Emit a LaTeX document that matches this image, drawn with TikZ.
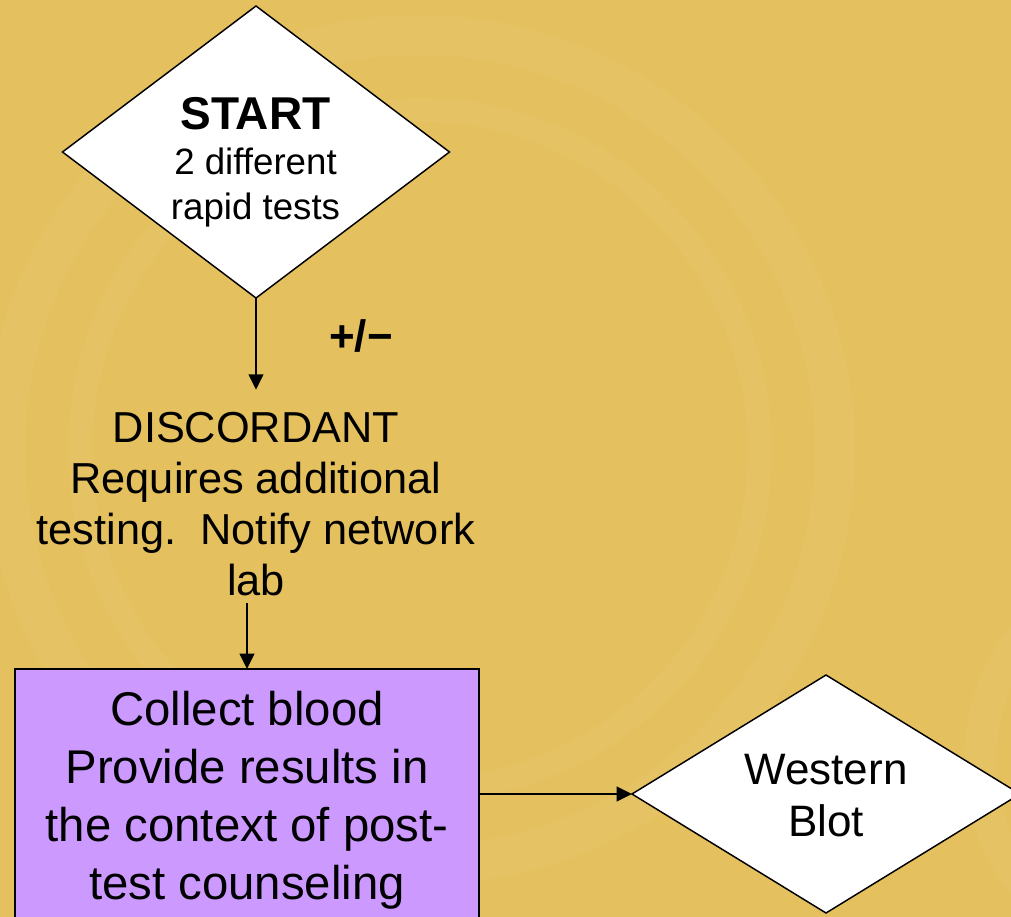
\documentclass[tikz,border=0pt]{standalone}
\usepackage{fontspec}
\setmainfont{Liberation Sans}
\usetikzlibrary{shapes.geometric,arrows.meta}
\definecolor{bggold}{RGB}{228,192,94}
\definecolor{bglight}{RGB}{238,210,128}
\definecolor{boxpurple}{RGB}{204,153,255}
\tikzset{
  decision/.style={diamond, draw=black, line width=1.1pt, fill=white, inner sep=0pt, outer sep=0pt},
  procbox/.style={rectangle, draw=black, line width=1.6pt, fill=boxpurple, inner sep=0pt, outer sep=0pt},
  txt/.style={inner sep=0pt, outer sep=0pt, align=center, anchor=base, text=black},
  arr/.style={-{Triangle[length=11.5pt,width=11pt]}, line width=1.4pt, draw=black},
  ring/.style={draw=bglight, opacity=0.16},
}
\begin{document}
\begin{tikzpicture}[x=0.75pt,y=-0.75pt]
\useasboundingbox (0,0) rectangle (1011,917);
\clip (0,0) rectangle (1011,917);
\fill[bggold] (0,0) rectangle (1011,917);
% faint swirl of the background
\draw[ring, line width=30pt] (420,450) circle (415);
\draw[ring, line width=18pt] (420,450) circle (340);
\draw[ring, line width=24pt] (1180,760) circle (200);

% shapes
\node[decision, minimum width=290.25pt, minimum height=219pt] (start) at (256,152) {};
\node[procbox, minimum width=348pt, minimum height=195.75pt] (rect) at (247,799.5) {};
\node[decision, minimum width=291pt, minimum height=178.5pt] (wb) at (826,794) {};

% texts (base anchor = baseline of the last line)
\node[txt, font=\fontsize{34.5}{40}\selectfont\bfseries] (startT) at (255.5,129.3) {START};
\node[txt, font=\fontsize{27.5}{33}\selectfont] (startS) at (255.5,219) {2 different\\rapid tests};
\node[txt, font=\fontsize{33}{38}\selectfont\bfseries] (pm) at (361,351) {+/−};
\node[txt, font=\fontsize{32.5}{38.25}\selectfont] (disc) at (256,595)
  {DISCORDANT\\Requires additional\\testing.~~Notify network\\lab};
\node[txt, font=\fontsize{35.5}{43.35}\selectfont] (collect) at (247,899)
  {Collect blood\\Provide results in\\the context of post-\\test counseling};
\node[txt, font=\fontsize{33}{38.8}\selectfont] (wbT) at (826,836.7) {Western\\Blot};

% connectors
\draw[arr, shorten >=16.5pt] (start.south) -- (start.south |- disc.north);
\draw[arr, shorten <=6pt] (rect.north |- disc.south) -- (rect.north);
\draw[arr] (rect.east |- wb.west) -- (wb.west);
\end{tikzpicture}
\end{document}
